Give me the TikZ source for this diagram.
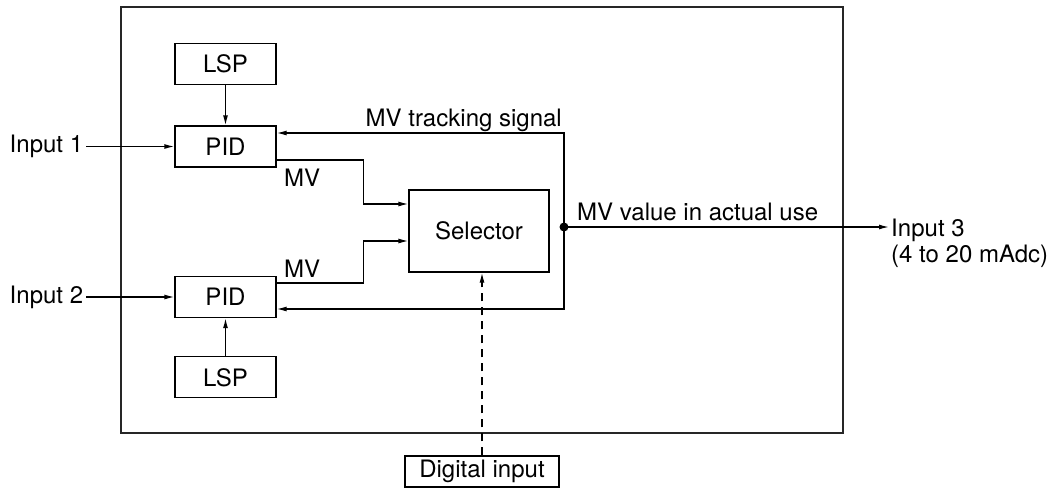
\documentclass[tikz,border=0pt]{standalone}
\usepackage{fontspec}
\setmainfont{TeX Gyre Heros}
\usetikzlibrary{arrows.meta, positioning}

\begin{document}
\begin{tikzpicture}[
  x=1pt, y=-1pt,
  font=\fontsize{24pt}{26pt}\selectfont,
  node distance=40pt and 88pt,
  box/.style={rectangle, draw, line width=1.3pt, minimum width=101pt,
             minimum height=41pt, inner sep=0pt},
  selbox/.style={box, minimum width=140pt, minimum height=82pt},
  dinbox/.style={box, minimum width=154pt, minimum height=31pt,
             text height=17pt, text depth=5pt},
  lbl/.style={inner sep=0pt},
  arrow/.style={-{Latex[length=10pt,width=5pt]}, line width=1.3pt},
  dasharrow/.style={arrow, dash pattern=on 8pt off 6pt}
]
\useasboundingbox (0,0) rectangle (1053,488);
\draw[line width=2.6pt, black!85] (121,7) rectangle (843,433);

\node[box] (pid1) at (225.5,146.5) {PID};
\node[box, above=of pid1] (lsp1) {LSP};
\node[box] (pid2) at (225.5,297) {PID};
\node[box, below=38pt of pid2] (lsp2) {LSP};
\node[selbox] (sel) at (479,231) {Selector};
\node[dinbox] (digin) at (482,471.5) {Digital input};

\node[lbl, inner xsep=3pt, left=of pid1] (in1) {Input 1};
\node[lbl, inner xsep=3pt, left=of pid2] (in2) {Input 2};
\node[lbl, anchor=north west, align=left, inner sep=2pt] (in3) at (889,217) {Input 3\\(4 to 20 mAdc)};

\node[lbl, anchor=base west] (mv1) at (284,186) {MV};
\node[lbl, anchor=base west] (mv2) at (284,277) {MV};
\node[lbl, anchor=base east] (trk) at (562,126) {MV tracking signal};
\node[lbl, anchor=base west] (use) at (577,220) {MV value in actual use};

\coordinate (jct) at (564,227);

\draw[arrow] (in1) -- (pid1);
\draw[arrow] (in2) -- (pid2);
\draw[arrow] (lsp1) -- (pid1);
\draw[arrow] (lsp2) -- (pid2);
\draw[arrow] ([yshift=-13.5pt]pid1.east) -- ++(87,0) |- ([yshift=27pt]sel.west);
\draw[arrow] ([yshift=14pt]pid2.east) -- ++(87,0) |- ([yshift=-10pt]sel.west);
\draw[arrow] (jct) |- ([yshift=13.5pt]pid1.east);
\draw[arrow] (jct) |- ([yshift=-12pt]pid2.east);
\draw[arrow] (jct) -- (jct -| in3.west);
\fill (jct) circle (4.5pt);
\draw[dasharrow] (digin.north) -- (digin.north |- sel.south);
\end{tikzpicture}
\end{document}
